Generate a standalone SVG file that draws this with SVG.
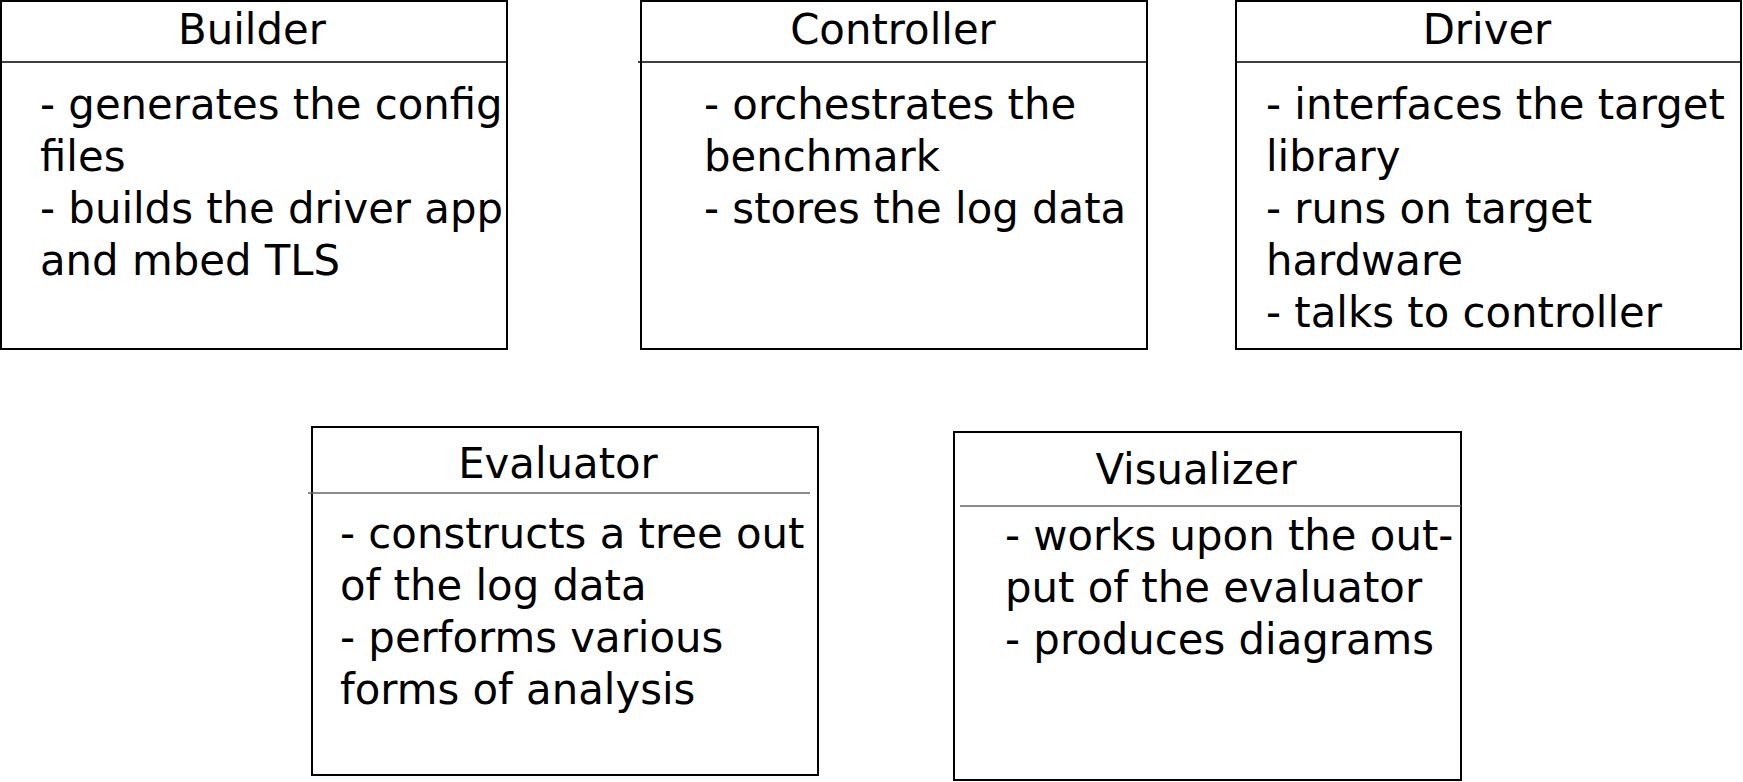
<svg xmlns="http://www.w3.org/2000/svg" width="1743" height="782" viewBox="0 0 1743 782">
<style>
.box{fill:#fff;stroke:#000;stroke-width:2}
.div{stroke:#000;stroke-width:1.3}
.divg{stroke:#666;stroke-width:1.5}
text{font-family:"DejaVu Sans",sans-serif;font-size:41.8px;fill:#000}
.t{text-anchor:middle}
</style>
<rect width="1743" height="782" fill="#fff"/>
<g id="builder">
<rect class="box" x="1" y="1" width="506" height="348"/>
<line class="div" x1="1" y1="62" x2="507" y2="62"/>
<text class="t" x="252" y="44">Builder</text>
<text x="40" y="119">- generates the config</text>
<text x="40" y="171">files</text>
<text x="40" y="223">- builds the driver app</text>
<text x="40" y="275">and mbed TLS</text>
</g>
<g id="controller">
<rect class="box" x="641" y="1" width="506" height="348"/>
<line class="div" x1="638" y1="62" x2="1147" y2="62"/>
<text class="t" x="893" y="44">Controller</text>
<text x="704" y="119">- orchestrates the</text>
<text x="704" y="171">benchmark</text>
<text x="704" y="223">- stores the log data</text>
</g>
<g id="driver">
<rect class="box" x="1236" y="1" width="505" height="348"/>
<line class="div" x1="1236" y1="62" x2="1741" y2="62"/>
<text class="t" x="1487" y="44">Driver</text>
<text x="1266" y="119">- interfaces the target</text>
<text x="1266" y="171">library</text>
<text x="1266" y="223">- runs on target</text>
<text x="1266" y="275">hardware</text>
<text x="1266" y="327">- talks to controller</text>
</g>
<g id="evaluator">
<rect class="box" x="312" y="427" width="506" height="348"/>
<line class="divg" x1="308" y1="493" x2="810" y2="493"/>
<text class="t" x="558" y="478">Evaluator</text>
<text x="340" y="548">- constructs a tree out</text>
<text x="340" y="600">of the log data</text>
<text x="340" y="652">- performs various</text>
<text x="340" y="704">forms of analysis</text>
</g>
<g id="visualizer">
<rect class="box" x="954" y="432" width="507" height="348"/>
<line class="divg" x1="960" y1="506" x2="1461" y2="506"/>
<text class="t" x="1196" y="484">Visualizer</text>
<text x="1005" y="550">- works upon the out-</text>
<text x="1005" y="602">put of the evaluator</text>
<text x="1005" y="654">- produces diagrams</text>
</g>
<g id="connectors"></g>
</svg>
